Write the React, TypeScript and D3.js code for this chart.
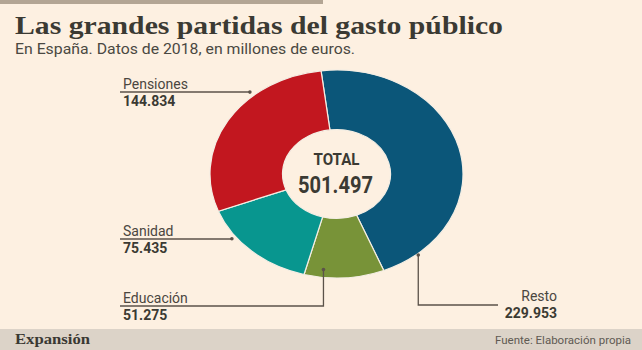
import React from "react";
import * as d3 from "d3";

// Datos de 2018, en millones de euros (orden de dibujo, sentido horario desde arriba)
const categories = ["Resto", "Educación", "Sanidad", "Pensiones"];
const values = [229953, 51275, 75435, 144834];
const sliceColors = ["#0b5679", "#789338", "#08968f", "#c2171f"];

const title = "Las grandes partidas del gasto público";
const subtitle = "En España. Datos de 2018, en millones de euros.";
const source = "Fuente: Elaboración propia";
const brand = "Expansión";

const es = d3.formatLocale({ decimal: ",", thousands: ".", grouping: [3], currency: ["", " €"] });
const fmt = es.format(",d");

const W = 642, H = 350;
const bg = "#fdf0e1";
const ink = "#3b3a33";
const lineCol = "#5b5249";

// elipse: círculo escalado verticalmente
const cx = 336.5, cy = 174, R = 126.5, r = 54, sy = 0.822;
const start = (-7 * Math.PI) / 180;

// anclas de las etiquetas: ángulo (grados) y radio sobre el círculo base
const anchors: Record<string, { deg: number; rad: number }> = {
  Pensiones: { deg: 319, rad: 132 },
  Sanidad: { deg: 233, rad: 131 },
  "Educación": { deg: 186.4, rad: 117 },
  Resto: { deg: 140.3, rad: 128 },
};

function anchorPoint(name: string) {
  const a = anchors[name];
  const t = (a.deg * Math.PI) / 180;
  return [cx + a.rad * Math.sin(t), cy - a.rad * Math.cos(t) * sy];
}

export default function App() {
  const pie = d3.pie<number>().sort(null).startAngle(start).endAngle(start + 2 * Math.PI);
  const arcs = pie(values);
  const arc = d3.arc<d3.PieArcDatum<number>>().innerRadius(r).outerRadius(R);
  const total = d3.sum(values);

  const sans = "Roboto, 'Liberation Sans', sans-serif";
  const serif = "'Liberation Serif', 'DejaVu Serif', serif";

  const labelFor = (name: string) => {
    const i = categories.indexOf(name);
    return { name, value: fmt(values[i]) };
  };

  const [pX, pY] = anchorPoint("Pensiones");
  const [sX, sY] = anchorPoint("Sanidad");
  const [eX, eY] = anchorPoint("Educación");
  const [rX, rY] = anchorPoint("Resto");

  const side = [
    { l: labelFor("Pensiones"), y: 92, ax: pX, ay: pY, elbow: false },
    { l: labelFor("Sanidad"), y: 239, ax: sX, ay: sY, elbow: false },
    { l: labelFor("Educación"), y: 306, ax: eX, ay: eY, elbow: true },
  ];
  const resto = labelFor("Resto");

  return (
    <svg
      width={W}
      height={H}
      style={{ position: "absolute", left: 0, top: 0, display: "block" }}
    >
      <rect width={W} height={H} fill={bg} />
      <rect x={0} y={0} width={323} height={4} fill="#b3a594" />

      <text x={15} y={34} fontFamily={serif} fontWeight={700} fontSize={25} fill={ink}
        textLength={488} lengthAdjust="spacingAndGlyphs">
        {title}
      </text>
      <text x={15} y={54} fontFamily={sans} fontSize={15} fill="#4a4842"
        textLength={340} lengthAdjust="spacingAndGlyphs">
        {subtitle}
      </text>

      <g transform={`translate(${cx},${cy}) scale(1,${sy})`}>
        {arcs.map((a, i) => (
          <path key={categories[i]} d={arc(a) || ""} fill={sliceColors[i]}
            stroke="#f4eee4" strokeWidth={1.2} vectorEffect="non-scaling-stroke" />
        ))}
      </g>

      <text x={cx} y={165} textAnchor="middle" fontFamily={sans} fontWeight={700}
        fontSize={17} fill={ink} textLength={46} lengthAdjust="spacingAndGlyphs">
        TOTAL
      </text>
      <text x={cx - 1} y={193} textAnchor="middle" fontFamily={sans} fontWeight={700}
        fontSize={23} fill={ink} textLength={75} lengthAdjust="spacingAndGlyphs">
        {fmt(total)}
      </text>

      {side.map((s) => (
        <g key={s.l.name}>
          <path
            d={s.elbow ? `M120,${s.y}H${s.ax}V${s.ay}` : `M120,${s.y}H${s.ax}`}
            fill="none" stroke={lineCol} strokeWidth={1.3}
          />
          <circle cx={s.ax} cy={s.ay} r={1.8} fill={lineCol} />
          <text x={123} y={s.y - 3.5} fontFamily={sans} fontSize={14} fill="#4a463f">
            {s.l.name}
          </text>
          <text x={123} y={s.y + 14} fontFamily={sans} fontWeight={700} fontSize={14}
            fill={ink}>
            {s.l.value}
          </text>
        </g>
      ))}

      <g>
        <path d={`M498,305H${rX}V${rY}`} fill="none" stroke={lineCol} strokeWidth={1.3} />
        <circle cx={rX} cy={rY} r={1.8} fill={lineCol} />
        <text x={557} y={300.5} textAnchor="end" fontFamily={sans} fontSize={14} fill="#4a463f">
          {resto.name}
        </text>
        <text x={557} y={318} textAnchor="end" fontFamily={sans} fontWeight={700} fontSize={14}
          fill={ink}>
          {resto.value}
        </text>
      </g>

      <rect x={0} y={329} width={W} height={H - 329} fill="#dcd3c8" />
      <text x={15} y={344} fontFamily={serif} fontWeight={700} fontSize={15} fill="#3a3833"
        textLength={75} lengthAdjust="spacingAndGlyphs">
        {brand}
      </text>
      <text x={631} y={344} textAnchor="end" fontFamily={sans} fontSize={11.5} fill="#5f5a53">
        {source}
      </text>
    </svg>
  );
}
